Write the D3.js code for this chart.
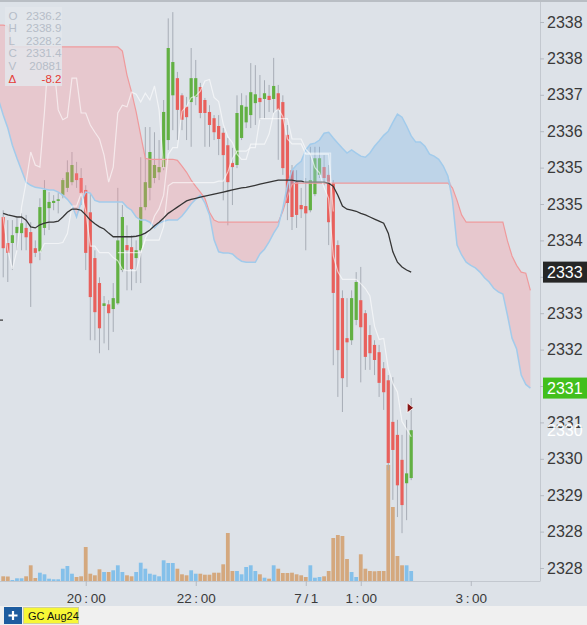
<!DOCTYPE html>
<html><head><meta charset="utf-8">
<script src="https://cdn.jsdelivr.net/npm/d3@7"></script>
<style>
html,body{margin:0;padding:0;background:#dde2e8;overflow:hidden;}
svg{display:block;}
text{font-family:"Liberation Sans",Arial,sans-serif;}
</style></head><body>
<svg id="chart" width="587" height="625"></svg>
<script>
// ---------- DATA (5-minute candles from 18:30) ----------
const opens = [2334.50,2334.00,2334.00,2334.19,2334.19,2334.29,2334.21,2333.90,2333.84,2334.29,
2334.67,2334.77,2334.81,2334.92,2335.06,2335.17,2335.34,2335.25,2335.02,2334.59,
2333.71,2333.23,2332.79,2332.82,2332.73,2332.84,2333.48,2333.96,2333.92,2333.71,
2333.86,2334.69,2335.06,2335.25,2335.36,2335.46,2335.98,2336.84,2337.17,2336.84,
2336.62,2336.71,2336.81,2337.00,2336.75,2336.52,2336.40,2336.25,2336.12,2335.88,
2335.54,2335.50,2336.02,2336.32,2336.46,2336.69,2336.79,2336.77,2336.83,2336.77,
2336.88,2336.71,2336.08,2335.40,2335.17,2334.73,2334.71,2334.63,2334.94,2335.31,
2335.46,2335.31,2335.15,2333.96,2332.94,2332.17,2332.13,2332.52,2332.90,2332.65,
2332.23,2332.04,2331.90,2331.59,2331.36,2330.56,2330.31,2329.83,2329.38,2329.48];
const highs = [2334.63,2334.44,2334.44,2334.48,2334.57,2334.54,2334.40,2334.05,2334.86,2335.21,
2334.98,2334.92,2334.96,2335.25,2335.59,2335.75,2335.56,2335.44,2335.11,2334.96,
2333.86,2333.34,2332.98,2332.90,2333.23,2335.06,2334.73,2334.34,2334.15,2334.05,
2335.65,2336.23,2336.23,2336.13,2335.98,2336.75,2338.32,2338.44,2337.29,2336.88,
2336.81,2337.75,2337.52,2337.08,2336.79,2336.65,2336.46,2336.46,2336.21,2336.02,
2335.83,2336.84,2336.88,2336.84,2337.46,2337.42,2337.23,2337.13,2337.04,2337.56,
2337.04,2336.84,2336.27,2335.50,2335.40,2335.06,2335.25,2335.85,2335.85,2335.85,
2335.69,2335.50,2335.21,2334.05,2333.09,2332.94,2333.09,2333.44,2333.54,2332.71,
2332.42,2332.13,2332.04,2331.71,2331.46,2331.42,2330.60,2330.31,2330.60,2331.02];
const lows = [2333.34,2333.25,2333.48,2333.86,2333.86,2333.86,2332.77,2333.73,2333.67,2334.15,
2334.25,2334.63,2334.57,2334.86,2334.98,2335.11,2335.06,2334.73,2333.48,2332.13,
2332.13,2331.88,2332.07,2331.94,2332.29,2332.81,2333.44,2333.09,2333.09,2333.23,
2333.23,2334.63,2334.82,2335.15,2335.21,2335.40,2335.79,2336.17,2335.98,2336.17,
2335.98,2335.85,2336.65,2336.40,2335.85,2335.85,2335.98,2335.69,2334.82,2334.34,
2334.73,2335.44,2335.98,2336.21,2336.21,2336.27,2336.37,2336.40,2336.52,2336.50,
2335.60,2335.31,2334.44,2334.25,2334.29,2334.48,2333.86,2334.59,2334.90,2335.25,
2335.11,2333.96,2331.65,2331.04,2330.75,2331.23,2332.04,2332.42,2331.32,2331.56,
2331.56,2331.46,2331.04,2330.79,2329.63,2329.06,2328.73,2328.42,2328.67,2329.44];
const closes = [2333.90,2333.81,2334.15,2334.31,2334.38,2334.11,2333.61,2333.81,2334.69,2335.02,
2334.79,2334.81,2334.84,2335.21,2335.36,2335.50,2335.21,2334.96,2333.81,2332.96,
2332.67,2332.36,2332.84,2332.65,2332.94,2334.05,2334.50,2333.86,2333.50,2333.86,
2334.69,2335.17,2335.75,2335.50,2335.46,2336.52,2337.75,2337.48,2336.56,2336.37,
2336.42,2337.17,2337.17,2336.50,2336.50,2336.27,2336.13,2336.00,2335.69,2335.17,
2335.46,2336.50,2336.65,2336.62,2336.90,2336.86,2336.71,2336.88,2336.75,2337.02,
2336.56,2335.44,2334.77,2334.50,2334.54,2334.65,2334.57,2335.21,2335.63,2335.63,
2335.25,2334.40,2333.04,2331.94,2331.40,2332.09,2332.94,2333.25,2332.38,2331.81,
2331.88,2331.75,2331.31,2331.13,2329.77,2330.02,2329.34,2328.96,2329.57,2330.40];
const volumes = [47,45,10,27,27,47,157,30,83,67,
23,17,17,123,150,73,40,47,340,73,
57,117,90,90,107,157,90,57,47,90,
183,123,73,63,47,207,180,180,123,67,
57,107,73,73,63,63,83,83,167,480,
100,100,67,140,157,100,67,33,23,157,
123,80,80,83,67,57,40,157,33,40,
47,100,430,460,450,220,90,40,267,123,
100,97,100,100,1160,740,250,157,157,100];
const blackLine = [2334.57,2334.54,2334.52,2334.50,2334.50,2334.44,2334.31,2334.29,2334.35,2334.38,
2334.40,2334.40,2334.42,2334.50,2334.59,2334.65,2334.65,2334.63,2334.54,2334.44,
2334.37,2334.31,2334.27,2334.19,2334.12,2334.12,2334.12,2334.12,2334.12,2334.13,
2334.15,2334.19,2334.25,2334.33,2334.40,2334.48,2334.57,2334.63,2334.69,2334.75,
2334.81,2334.84,2334.86,2334.88,2334.90,2334.92,2334.94,2334.96,2334.98,2335.00,
2335.02,2335.04,2335.06,2335.07,2335.09,2335.11,2335.13,2335.15,2335.17,2335.19,
2335.21,2335.21,2335.21,2335.21,2335.19,2335.19,2335.17,2335.17,2335.17,2335.17,
2335.17,2335.15,2335.09,2334.92,2334.71,2334.65,2334.63,2334.61,2334.57,2334.54,
2334.50,2334.46,2334.42,2334.38,2334.19,2333.83,2333.63,2333.54,2333.48,2333.44];
// cloud spans, index -1 .. 115 (26 bars ahead of the last candle)
const cloudStart = -1;
const spanA = [2336.75,2336.46,2336.21,2335.88,2335.63,2335.40,2335.17,2335.11,2335.07,2335.06,
2335.04,2335.02,2335.02,2334.98,2334.92,2334.84,2334.73,2334.50,2334.79,2334.98,
2334.96,2334.82,2334.79,2334.79,2334.79,2334.79,2334.79,2334.79,2334.69,2334.63,
2334.50,2334.44,2334.44,2334.40,2334.29,2334.38,2334.42,2334.44,2334.44,2334.44,
2334.52,2334.63,2334.75,2334.84,2334.92,2334.77,2334.54,2334.06,2333.83,2333.81,
2333.81,2333.79,2333.71,2333.65,2333.63,2333.63,2333.63,2333.79,2333.88,2334.02,
2334.19,2334.33,2334.67,2335.11,2335.40,2335.50,2335.57,2335.79,2335.90,2335.92,
2335.98,2336.11,2336.13,2336.02,2335.92,2335.82,2335.73,2335.79,2335.73,2335.67,
2335.65,2335.73,2335.86,2335.96,2336.07,2336.15,2336.32,2336.48,2336.42,2336.25,
2336.06,2335.94,2335.94,2335.86,2335.71,2335.67,2335.61,2335.48,2335.29,2334.82,
2333.96,2333.77,2333.63,2333.57,2333.52,2333.44,2333.33,2333.25,2333.13,2333.06,
2333.02,2332.61,2332.17,2331.96,2331.46,2331.28,2331.21];
const spanB = [2338.19,2338.19,2338.17,2337.77,2337.77,2337.77,2337.77,2337.77,2337.77,2337.77,
2337.77,2337.77,2337.77,2337.77,2337.77,2337.77,2337.77,2337.77,2337.77,2337.77,
2337.77,2337.77,2337.77,2337.77,2337.77,2337.77,2337.77,2337.69,2337.23,2336.90,
2336.52,2336.07,2335.63,2335.61,2335.61,2335.61,2335.61,2335.61,2335.61,2335.59,
2335.48,2335.36,2335.21,2335.09,2334.98,2334.86,2334.59,2334.44,2334.40,2334.40,
2334.40,2334.40,2334.40,2334.40,2334.40,2334.40,2334.40,2334.40,2334.40,2334.40,
2334.40,2334.40,2334.61,2334.90,2335.13,2335.15,2335.15,2335.15,2335.15,2335.15,
2335.15,2335.15,2335.15,2335.15,2335.15,2335.15,2335.15,2335.15,2335.15,2335.15,
2335.15,2335.15,2335.15,2335.15,2335.15,2335.15,2335.15,2335.15,2335.15,2335.15,
2335.15,2335.15,2335.15,2335.15,2335.15,2335.15,2335.15,2335.15,2335.15,2335.06,
2334.82,2334.54,2334.40,2334.40,2334.40,2334.40,2334.40,2334.40,2334.40,2334.40,
2334.40,2334.04,2333.75,2333.57,2333.44,2333.42,2333.09];
const yTickValues = [2338.25,2337.55,2336.85,2336.15,2335.45,2334.75,2334.05,2333.35,
2332.65,2331.95,2331.25,2330.55,2329.85,2329.15,2328.45,2327.75];
const xTickIndex = [18, 42, 66, 78, 102];
const xTickLabels = ["20:00", "22:00", "7/1", "1:00", "3:00"];
const infoLabels = ["O", "H", "L", "C", "V", "Δ"];
const infoValues = ["2336.2", "2338.9", "2328.2", "2331.4", "20881", "-8.2"];
const markerIndex = 89, markerPrice = 2330.83;
const boxRange = {i0: 66, i1: 71, top: 2335.73, bottom: 2335.17};
const chikouLastShifted = 35, kijunLast = 72;
const symbolName = "GC Aug24";

// ---------- LAYOUT ----------
const W = 587, H = 625, PR = 540, PB = 581;
const svg = d3.select("#chart");
svg.append("rect").attr("width", W).attr("height", H).attr("fill", "#dde2e8");

const x = d3.scaleLinear().domain([-0.7, 117.1]).range([0, PR]);
const y = d3.scaleLinear().domain([2338.25, 2327.75]).range([22, 568]);
const yv = d3.scaleLinear().domain([0, 1200]).range([PB, PB - 120]);

svg.append("defs").append("clipPath").attr("id", "plot")
  .append("rect").attr("x", 0).attr("y", 0).attr("width", PR).attr("height", PB);
const g = svg.append("g").attr("clip-path", "url(#plot)");
const idx = d3.range(opens.length);

// volume
g.append("g").selectAll("rect").data(idx).join("rect")
  .attr("x", i => x(i) - 1.9).attr("width", 3.8)
  .attr("y", i => yv(volumes[i])).attr("height", i => PB - yv(volumes[i]))
  .attr("fill", i => closes[i] >= opens[i] ? "#84c0ea" : "#d4a87e");

// candles
const cg = g.append("g");
cg.selectAll(".wick").data(idx).join("rect").attr("class", "wick")
  .attr("x", i => x(i) - 0.5).attr("width", 1)
  .attr("y", i => y(highs[i])).attr("height", i => y(lows[i]) - y(highs[i]))
  .attr("fill", "#a7adb6");
cg.selectAll(".body").data(idx).join("rect").attr("class", "body")
  .attr("x", i => x(i) - 1.6).attr("width", 3.2)
  .attr("y", i => y(Math.max(opens[i], closes[i])))
  .attr("height", i => Math.max(1.2, Math.abs(y(opens[i]) - y(closes[i]))))
  .attr("fill", i => closes[i] >= opens[i] ? "#62b043" : "#e8605c");

// cloud
const cIdx = spanA.map((d, k) => k + cloudStart);
const pink = d3.area().x((d, k) => x(cIdx[k]))
  .y0((d, k) => y(spanA[k])).y1((d, k) => y(Math.max(spanA[k], spanB[k])));
const blue = d3.area().x((d, k) => x(cIdx[k]))
  .y0((d, k) => y(spanB[k])).y1((d, k) => y(Math.max(spanA[k], spanB[k])));
g.append("path").datum(spanA).attr("d", pink).attr("fill", "rgb(255,140,145)").attr("opacity", 0.3);
g.append("path").datum(spanA).attr("d", blue).attr("fill", "rgb(120,178,232)").attr("opacity", 0.3);
const lineOf = arr => d3.line().x((d, k) => x(cIdx[k])).y(d => y(d))(arr);
g.append("path").attr("d", lineOf(spanB)).attr("fill", "none").attr("stroke", "#ef9a9c").attr("stroke-width", 1.2);
g.append("path").attr("d", lineOf(spanA)).attr("fill", "none").attr("stroke", "#a2cbeb").attr("stroke-width", 1.5);

// ichimoku white lines from the candles
function mid(n, i) {
  if (i < n - 1) return null;
  return (d3.max(highs.slice(i - n + 1, i + 1)) + d3.min(lows.slice(i - n + 1, i + 1))) / 2;
}
const tenkan = idx.map(i => mid(9, i));
const kijun = idx.map(i => i <= kijunLast ? mid(26, i) : null);
const wl = d3.line().defined(d => d[1] != null).x(d => x(d[0])).y(d => y(d[1]));
const white = "rgba(255,255,255,0.6)";
g.append("path").attr("d", wl(idx.map(i => [i, tenkan[i]]))).attr("fill", "none").attr("stroke", white).attr("stroke-width", 1.2);
g.append("path").attr("d", wl(idx.map(i => [i, kijun[i]]))).attr("fill", "none").attr("stroke", white).attr("stroke-width", 1.2);
g.append("path").attr("d", wl(idx.filter(i => i >= 26 && i - 26 <= chikouLastShifted).map(i => [i - 26, closes[i]])))
  .attr("fill", "none").attr("stroke", white).attr("stroke-width", 1.2);

// black line
g.append("path").attr("d", d3.line().x((d, i) => x(i)).y(d => y(d))(blackLine))
  .attr("fill", "none").attr("stroke", "#353535").attr("stroke-width", 1.3);

// faint selection box
g.append("rect").attr("x", x(boxRange.i0) - 1.5).attr("y", y(boxRange.top))
  .attr("width", x(boxRange.i1) - x(boxRange.i0) + 3.5).attr("height", y(boxRange.bottom) - y(boxRange.top))
  .attr("fill", "rgba(255,255,255,0.12)").attr("stroke", "rgba(255,255,255,0.55)").attr("stroke-width", 1);

// marker triangle
const mx = x(markerIndex), my = y(markerPrice);
g.append("path").attr("d", `M${mx - 4},${my - 5}L${mx - 4},${my + 5}L${mx + 2.5},${my}Z`)
  .attr("fill", "#861515").attr("stroke", "#fff").attr("stroke-width", 0.8);

// left edge tick
svg.append("rect").attr("x", 0).attr("y", 319.5).attr("width", 3).attr("height", 1.2).attr("fill", "#333");

// info box
svg.append("rect").attr("x", 5).attr("y", 7).attr("width", 57).attr("height", 79)
  .attr("fill", "#e3e6eb").attr("opacity", 0.85);
const info = svg.append("g").style("font-family", "'DejaVu Sans Mono',monospace").style("font-size", "11.6px");
infoLabels.forEach((lab, k) => {
  const col = k === 5 ? "#e53a36" : "#b6bdc8";
  const by = 19.5 + k * 12.6;
  info.append("text").attr("x", 8.5).attr("y", by).attr("fill", col).text(lab);
  info.append("text").attr("x", 61.5).attr("y", by).attr("text-anchor", "end").attr("fill", col).text(infoValues[k]);
});

// y axis
const yAxis = svg.append("g").attr("transform", `translate(${PR},0)`)
  .call(d3.axisRight(y).tickValues(yTickValues).tickSize(4).tickSizeOuter(0).tickPadding(3)
    .tickFormat(d3.format(".0f")));
yAxis.select(".domain").attr("stroke", "#c3c8cf").attr("d", `M0.5,0V${PB}`);
yAxis.selectAll(".tick line").attr("stroke", "#b4b9c1");
yAxis.selectAll(".tick text").attr("fill", "#3a3a3a").style("font-size", "16px")
  .style("font-family", "'Liberation Sans',Arial,sans-serif");

// price labels (boxes cover the axis labels beneath them)
const lastBlack = blackLine[blackLine.length - 1];
yAxis.selectAll(".tick").filter(d => Math.abs(y(d) - y(lastBlack)) < 10).select("text").remove();

// x axis
const xAxis = svg.append("g").attr("transform", `translate(0,${PB})`)
  .call(d3.axisBottom(x).tickValues(xTickIndex).tickSize(5).tickSizeOuter(0).tickPadding(7.5)
    .tickFormat((d, k) => xTickLabels[k]));
xAxis.select(".domain").attr("stroke", "#c3c8cf").attr("d", `M0,0.5H${PR + 0.5}`);
xAxis.selectAll(".tick line").attr("stroke", "#b4b9c1");
xAxis.selectAll(".tick text").attr("fill", "#3a3a3a").style("font-size", "13.5px")
  .style("font-family", "'Liberation Sans',Arial,sans-serif")
  .each(function () {
    const t = d3.select(this), s = t.text();
    t.text(null);
    s.split(/([:\/])/).forEach((part, j) => {
      if (!part) return;
      t.append("tspan").attr("dx", j > 0 ? 2.6 : 0).text(part);
    });
  });

function priceLabel(val, bg, fg) {
  const yy = y(val);
  if (bg) svg.append("rect").attr("x", 543).attr("y", yy - 10.5).attr("width", 44).attr("height", 21).attr("fill", bg);
  svg.append("text").attr("x", 547).attr("y", yy + 6).attr("fill", fg).style("font-size", "16px")
    .text(d3.format(".0f")(val));
}
priceLabel(lastBlack, "#262626", "#ffffff");
priceLabel(spanA[spanA.length - 1], "#42bf1c", "#ffffff");
priceLabel(closes[closes.length - 1], null, "#ffffff");

// top border
svg.append("rect").attr("x", 0).attr("y", 0).attr("width", W).attr("height", 2).attr("fill", "#b9bec4");

// bottom bar
svg.append("rect").attr("x", 0).attr("y", 606).attr("width", W).attr("height", 19).attr("fill", "#f0f0f0");
svg.append("rect").attr("x", 4).attr("y", 607).attr("width", 18).attr("height", 17).attr("fill", "#1d5c9f");
svg.append("path").attr("d", "M13,611V620M8.5,615.5H17.5").attr("stroke", "#fff").attr("stroke-width", 2.2);
svg.append("rect").attr("x", 23.5).attr("y", 607.5).attr("width", 55).attr("height", 16).attr("fill", "#f7f736")
  .attr("stroke", "#cfcf9a").attr("stroke-width", 1);
svg.append("text").attr("x", 28).attr("y", 619.5).attr("fill", "#111").style("font-size", "11px").text(symbolName);
</script>
</body></html>
